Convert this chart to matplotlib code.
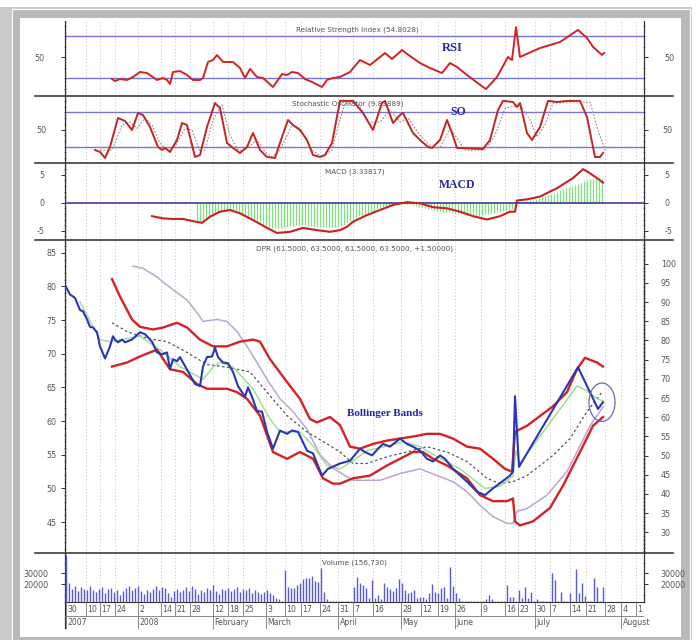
import matplotlib
matplotlib.use("Agg")
import matplotlib.pyplot as plt
import numpy as np
from matplotlib.lines import Line2D
from matplotlib.patches import Ellipse, Rectangle

plt.rcParams["axes.unicode_minus"] = False

W, H = 697, 640

# x axis is a session index running 0 .. 579 across the chart
week_ticks = [1, 21, 35, 50, 73, 96, 110, 125, 148, 163, 178, 201, 220, 236, 255, 273,
              288, 308, 336, 356, 373, 390, 416, 440, 453, 470, 485, 505, 521, 540, 556, 571]
week_labels = ["30", "10", "17", "24", "2", "14", "21", "28", "12", "18", "25", "3", "10", "17",
               "24", "31", "7", "16", "28", "12", "19", "26", "9", "16", "23", "30", "7", "14",
               "21", "28", "4", "1"]
month_ticks = [1, 73, 148, 201, 273, 336, 390, 470, 556]
month_labels = ["2007", "2008", "February", "March", "April", "May", "June", "July", "August"]

# --- main panel (price + bollinger bands) ---
price_x = [0, 5, 10, 15, 18, 22, 25, 28, 32, 35, 40, 45, 48, 50, 53, 57, 60, 67, 75, 80, 87, 92,
           97, 102, 105, 108, 112, 115, 118, 123, 130, 135, 138, 142, 147, 150, 153, 158, 163,
           168, 173, 180, 183, 187, 192, 197, 202, 208, 215, 222, 227, 233, 242, 248, 257, 263,
           275, 285, 295, 300, 307, 315, 318, 325, 335, 342, 348, 355, 362, 368, 375, 380, 388,
           402, 412, 420, 428, 437, 445, 448, 450, 454, 513, 533, 538]
price_y = [80.2, 78.8, 78.3, 76.5, 76.3, 75.1, 74.0, 73.9, 73.2, 71.1, 69.3, 71.1, 72.6, 72.1,
           71.7, 72.1, 71.7, 72.1, 73.2, 72.9, 71.8, 70.2, 69.9, 70.2, 67.7, 69.2, 68.9, 69.5,
           68.7, 67.4, 65.5, 65.2, 68.1, 69.5, 69.6, 70.9, 69.5, 68.7, 68.6, 67.3, 65.2, 63.6,
           65.0, 63.6, 61.5, 61.4, 58.4, 55.9, 58.6, 58.1, 58.6, 58.4, 55.6, 55.2, 51.9, 52.9,
           53.7, 54.1, 55.9, 55.4, 54.9, 56.2, 56.6, 56.2, 57.4, 56.6, 56.2, 55.6, 54.4, 54.0,
           54.9, 54.4, 52.9, 51.0, 49.5, 49.0, 50.0, 51.0, 51.9, 52.5, 63.7, 53.2, 68.0, 61.8, 62.8]

sma_x = [15, 35, 45, 75, 95, 115, 138, 148, 155, 168, 188, 205, 215, 235, 248, 262, 275, 288,
         302, 322, 338, 355, 372, 395, 420, 435, 448, 451, 455, 512, 522, 532, 538]
sma_y = [77.7, 72.1, 71.8, 72.6, 70.6, 68.1, 66.2, 68.0, 68.7, 68.0, 64.8, 60.3, 58.4, 58.4,
         56.3, 53.4, 52.9, 54.1, 55.6, 56.3, 56.9, 56.2, 54.7, 52.9, 50.0, 50.3, 51.8, 55.6,
         53.7, 65.2, 64.5, 63.3, 63.0]

mid_x = [47, 62, 82, 102, 122, 142, 162, 185, 202, 222, 242, 262, 275, 288, 302, 322, 342, 362,
         382, 402, 422, 435, 448, 462, 488, 505, 522, 537]
mid_y = [74.6, 73.3, 72.3, 71.8, 70.2, 68.4, 68.0, 67.3, 64.3, 60.8, 58.4, 56.6, 55.4, 53.7,
         53.7, 54.7, 55.4, 56.2, 55.4, 54.0, 51.5, 50.7, 51.0, 51.9, 54.9, 57.4, 61.4, 64.3]

upper_x = [47, 55, 67, 75, 88, 98, 112, 122, 135, 148, 162, 175, 188, 195, 205, 222, 235, 245,
           252, 265, 275, 285, 295, 308, 322, 335, 348, 362, 375, 388, 402, 415, 428, 440, 447,
           450, 462, 488, 502, 512, 520, 532, 538]
upper_y = [81.1, 78.5, 75.1, 74.0, 73.6, 73.9, 74.6, 73.9, 72.1, 71.1, 71.1, 71.8, 72.1, 71.8,
           69.2, 65.8, 63.3, 60.3, 59.8, 60.6, 59.4, 56.2, 55.9, 56.6, 57.1, 57.4, 57.7, 58.1,
           58.1, 57.4, 56.2, 55.9, 54.4, 52.9, 52.5, 58.4, 59.3, 62.2, 64.3, 67.7, 69.4, 68.7, 68.1]

lower_x = [47, 62, 75, 85, 92, 105, 118, 132, 142, 162, 172, 182, 195, 208, 222, 235, 248, 258,
           268, 275, 288, 305, 322, 335, 348, 358, 368, 382, 402, 415, 428, 442, 448, 450, 455,
           468, 485, 498, 515, 528, 538]
lower_y = [68.1, 68.7, 69.6, 70.2, 70.6, 67.7, 67.3, 65.5, 64.8, 64.8, 64.3, 63.3, 60.8, 55.4,
           54.4, 55.4, 54.4, 51.5, 50.7, 50.7, 51.5, 51.9, 53.4, 54.4, 55.4, 55.4, 54.4, 53.4,
           51.5, 49.0, 48.1, 48.1, 48.5, 45.1, 44.5, 45.1, 47.1, 50.4, 55.4, 59.3, 60.6]

dpr_x = [68, 78, 92, 108, 122, 132, 138, 152, 162, 172, 182, 192, 202, 215, 228, 242, 255, 268,
         288, 315, 335, 355, 372, 388, 402, 415, 428, 442, 448, 452, 462, 482, 502, 515, 525, 538]
dpr_y = [83.0, 82.7, 81.4, 79.5, 78.0, 76.1, 74.8, 75.1, 74.8, 73.3, 71.1, 68.7, 66.2, 63.3,
         61.4, 58.8, 55.0, 53.0, 51.2, 51.2, 52.2, 52.9, 51.9, 51.0, 49.5, 47.5, 45.8, 44.8,
         44.8, 46.6, 47.0, 49.0, 52.5, 56.3, 59.3, 62.1]

# --- RSI ---
rsi_x = [47, 50, 55, 62, 68, 75, 82, 92, 98, 102, 105, 108, 115, 122, 128, 135, 138, 143, 148,
         152, 158, 168, 175, 180, 185, 192, 198, 208, 217, 222, 227, 233, 240, 247, 257, 262,
         268, 275, 285, 295, 305, 320, 327, 337, 345, 355, 365, 377, 385, 392, 402, 418, 421,
         432, 443, 447, 451, 455, 475, 495, 513, 522, 528, 537, 539]
rsi_y = [29.1, 27.2, 29.1, 28.2, 31.1, 35.9, 34.9, 28.2, 30.1, 28.2, 24.3, 35.9, 36.8, 33.0,
         28.2, 28.2, 30.1, 45.5, 47.4, 52.2, 45.5, 45.5, 39.7, 30.1, 38.8, 31.1, 30.1, 21.4,
         33.9, 33.0, 35.9, 34.9, 29.1, 26.3, 21.4, 28.2, 30.1, 31.1, 35.9, 47.4, 42.6, 54.1,
         48.4, 57.0, 51.2, 44.5, 39.7, 34.9, 44.5, 40.7, 33.0, 21.4, 19.5, 31.1, 50.3, 47.4,
         79.1, 50.3, 58.9, 64.7, 76.3, 68.6, 60.0, 52.2, 54.1]

# --- Stochastic oscillator ---
so_x = [30, 35, 40, 45, 53, 60, 67, 73, 78, 85, 93, 97, 100, 105, 112, 117, 122, 130, 135, 142,
        150, 155, 162, 168, 175, 182, 188, 195, 202, 210, 217, 223, 228, 235, 242, 248, 255,
        260, 267, 275, 288, 298, 308, 317, 320, 328, 335, 338, 348, 355, 363, 367, 375, 382,
        387, 392, 418, 425, 433, 438, 448, 452, 455, 462, 467, 475, 483, 492, 502, 515, 522,
        530, 535, 538]
so_k = [14.2, 10.7, 0.3, 19.5, 70.1, 64.8, 49.1, 78.8, 75.3, 54.4, 19.5, 14.2, 17.7, 10.7,
        31.7, 61.3, 57.9, 2.0, 5.5, 54.4, 96.2, 87.5, 26.4, 17.7, 9.0, 19.5, 43.9, 14.2, 2.0,
        0.3, 36.9, 66.6, 57.9, 49.1, 31.7, 5.5, 2.0, 5.5, 26.4, 100, 100, 78.8, 49.1, 96.2, 100,
        61.3, 75.3, 78.8, 43.9, 31.7, 19.5, 17.7, 31.7, 66.6, 43.9, 17.7, 16.0, 31.7, 84.0, 100,
        98, 89.3, 96.2, 43.9, 31.7, 54.4, 100, 98, 100, 100, 71.8, 2.0, 2.0, 9.0]
sod_x = [35, 47, 57, 65, 72, 80, 87, 95, 103, 110, 120, 127, 135, 140, 148, 157, 165, 173, 180,
         192, 200, 207, 215, 227, 235, 247, 257, 267, 275, 280, 293, 303, 315, 325, 335, 343,
         355, 367, 375, 385, 393, 400, 420, 430, 440, 455, 465, 472, 480, 488, 510, 525, 533, 540]
so_d = [14, 14, 58, 63, 52, 70, 58, 26, 14, 20, 52, 49, 11, 14, 67, 93, 40, 14, 14, 32, 11, 2,
        14, 58, 52, 14, 2, 14, 67, 96, 96, 63, 63, 84, 63, 70, 40, 18, 18, 52, 32, 14, 14, 40,
        87, 93, 67, 37, 58, 96, 98, 98, 49, 14]

# --- MACD ---
macd_x = [87, 98, 108, 118, 128, 137, 145, 155, 165, 175, 188, 202, 212, 225, 238, 252, 265,
          275, 282, 288, 302, 315, 328, 342, 355, 368, 382, 395, 408, 422, 435, 445, 450, 452,
          462, 475, 492, 508, 518, 523, 532, 538]
macd_y = [-2.4, -2.8, -2.9, -2.9, -3.3, -3.6, -2.5, -1.6, -1.3, -1.9, -3.1, -4.5, -5.4, -5.2,
          -4.5, -4.9, -5.2, -4.9, -4.3, -3.4, -2.2, -1.3, -0.4, 0.1, -0.1, -0.8, -1.0, -1.6,
          -2.4, -3.0, -2.4, -1.6, -1.6, 0.4, 0.6, 1.1, 2.6, 4.4, 6.0, 5.5, 4.4, 3.6]
hist_x = np.arange(132, 538, 3)
hist_y = [-3.3, -3.5, -3.5, -3.0, -2.6, -2.2, -1.9, -1.7, -1.5, -1.4, -1.3, -1.3, -1.4, -1.6,
          -1.8, -2.1, -2.4, -2.7, -3.0, -3.2, -3.5, -3.8, -4.0, -4.2, -4.4, -4.5, -4.6, -4.6,
          -4.5, -4.4, -4.3, -4.2, -4.1, -4.0, -3.9, -3.9, -4.0, -4.1, -4.2, -4.3, -4.3, -4.4,
          -4.4, -4.4, -4.4, -4.3, -4.3, -4.2, -4.1, -3.9, -3.6, -3.3, -3.0, -2.7, -2.4, -2.2,
          -2.0, -1.8, -1.6, -1.4, -1.2, -1.0, -0.9, -0.7, -0.6, -0.5, -0.4, -0.3, -0.2, -0.2,
          -0.2, -0.3, -0.4, -0.5, -0.7, -0.8, -1.0, -1.1, -1.2, -1.3, -1.4, -1.5, -1.6, -1.6,
          -1.7, -1.8, -1.9, -2.0, -2.0, -2.1, -2.2, -2.2, -2.3, -2.3, -2.3, -2.2, -2.1, -2.0,
          -1.9, -1.8, -1.7, -1.6, -1.5, -1.4, -1.3, -1.2, -1.0, 0.2, 0.2, 0.3, 0.3, 0.4, 0.5,
          0.6, 0.8, 1.0, 1.2, 1.4, 1.6, 1.8, 2.0, 2.2, 2.4, 2.6, 2.8, 3.0, 3.2, 3.4, 3.6, 3.8,
          4.0, 4.2, 4.3, 4.4, 4.4, 4.3]

# --- Volume (thousands) ---
vol_x = np.arange(1, 539, 3)
vol_k = [47.1, 20.9, 15.3, 18.1, 13.5, 17.2, 15.3, 14.4, 18.1, 14.4,
         12.5, 15.3, 17.2, 11.6, 15.3, 16.3, 12.5, 14.4, 9.7, 13.5,
         16.3, 18.1, 14.4, 16.3, 18.1, 13.5, 10.7, 14.4, 12.5, 15.3,
         18.1, 14.4, 17.2, 16.3, 11.6, 7.8, 13.5, 15.3, 12.5, 14.4,
         17.2, 13.5, 18.1, 15.3, 10.7, 14.4, 12.5, 16.3, 14.4, 19.1,
         13.5, 10.7, 15.3, 14.4, 16.3, 13.5, 15.3, 17.2, 12.5, 15.3,
         14.4, 16.3, 11.6, 14.4, 12.5, 10.7,
         12.5, 14.4, 11.6, 9.7, 6.9, 6.0, 4.0, 33.1, 17.5, 16.0,
         16.0, 19.1, 20.9, 24.4, 25.9, 25.6, 27.5, 22.8, 22.2, 34.7,
         12.8, 6.0, 4.0, 4.0, 4.0, 4.0, 4.0, 4.0, 4.0, 4.0,
         17.5, 26.3, 20.7, 19.1, 16.0, 6.9, 23.7, 6.9, 9.7, 6.0,
         21.2, 17.5, 15.0, 13.5, 16.0, 24.4, 20.7, 14.4, 11.3, 12.8,
         14.4, 6.9, 8.1, 8.1, 6.0, 11.3, 19.7, 12.8, 11.3, 16.0,
         17.5, 6.9, 36.2, 18.1, 11.3, 6.6, 4.5, 4.5, 4.5, 4.5,
         4.5, 4.5, 4.5, 4.5, 6.0, 9.7, 5.7, 4.5, 4.5, 4.5,
         4.5, 19.1, 8.1, 7.6, 4.5, 14.4, 6.9, 17.5, 6.9, 12.8,
         4.5, 5.7, 4.5, 4.5, 4.5, 4.5, 30.0, 23.7, 4.5, 12.8,
         4.5, 4.5, 11.3, 4.5, 34.0, 11.3, 20.7, 8.8, 4.5, 4.5,
         25.3, 17.5, 4.5, 17.5]

RED = "#d42222"
BLUE = "#2a36b4"
NAVY = "#2626a6"
GRID = "#c4c4c4"
SMALL = ["Liberation Sans Narrow", "DejaVu Sans"]
SERIF = ["Liberation Serif", "DejaVu Serif"]


def fx(x):
    return x / W


def fy(y):
    return 1 - y / H


def panel(fig, top, bottom, right_pad=9):
    ax = fig.add_axes([fx(65), fy(bottom), (644 - 65) / W, (bottom - top) / H])
    ax.set_xlim(0, 579)
    ax.set_facecolor("none")
    for s in ("top", "bottom"):
        ax.spines[s].set_visible(False)
    for s in ("left", "right"):
        ax.spines[s].set_color("#333333")
        ax.spines[s].set_linewidth(0.9)
    ax.set_xticks([])
    for t in week_ticks:
        ax.axvline(t, color=GRID, lw=0.6, ls=(0, (1.5, 2.5)), zorder=0)
    ax.tick_params(axis="y", which="major", direction="out", length=3, width=0.7,
                   colors="#333333", labelsize=5.8, labelcolor="#555555",
                   right=True, labelright=True, pad=2)
    ax.tick_params(axis="y", which="minor", direction="inout", length=2, width=0.5,
                   colors="#555555", right=True)
    ax.yaxis.set_tick_params(which="major", pad=3)
    for tk in ax.yaxis.get_major_ticks():
        tk.set_pad(3)
    ax.tick_params(axis="y", which="major", pad=3)
    return ax


def right_labels_out(ax, pad):
    # push the right-hand tick labels away from the axis line
    for tk in ax.yaxis.get_major_ticks():
        tk.label2.set_horizontalalignment("left")
    ax.yaxis.set_tick_params(which="major", pad=pad)
    ax.tick_params(axis="y", which="major", left=True, labelleft=True)


fig = plt.figure(figsize=(W / 100, H / 100), dpi=100)
fig.patch.set_facecolor("white")

# outer frame
fig.add_artist(Rectangle((0, 0), fx(692), 1 - 7 / H, transform=fig.transFigure,
                         facecolor="#cacaca", edgecolor="none", zorder=-5))
fig.add_artist(Rectangle((fx(12), 0), fx(678), 1 - 9 / H, transform=fig.transFigure,
                         facecolor="#b9b9b9", edgecolor="white", lw=0.8, zorder=-4))
fig.add_artist(Rectangle((fx(20), fy(637)), fx(661), (637 - 18) / H, transform=fig.transFigure,
                         facecolor="white", edgecolor="none", zorder=-3))

# ---------------- RSI ----------------
ax_rsi = panel(fig, 21, 96)
ax_rsi.set_ylim(12.8, 84.9)
ax_rsi.axhline(70, color="#7676d6", lw=1.0, zorder=1)
ax_rsi.axhline(30, color="#7676d6", lw=1.0, zorder=1)
ax_rsi.plot(rsi_x, rsi_y, color=RED, lw=1.4, zorder=3)
ax_rsi.set_yticks([50])
ax_rsi.set_yticks([20, 30, 40, 60, 70, 80], minor=True)
ax_rsi.text(387, 58.9, "RSI", family=SERIF, weight="bold", color=NAVY, fontsize=9,
            ha="center", va="center")

# ---------------- Stochastic ----------------
ax_so = panel(fig, 96, 163)
ax_so.set_ylim(-8.5, 108.5)
ax_so.axhline(80, color="#7676d6", lw=1.0, zorder=1)
ax_so.axhline(20, color="#7676d6", lw=1.0, zorder=1)
ax_so.plot(sod_x, so_d, color="#b08080", lw=0.8, ls=(0, (1.5, 1.5)), zorder=2)
ax_so.plot(so_x, so_k, color="#c02424", lw=1.4, zorder=3)
ax_so.set_yticks([50])
ax_so.set_yticks([0, 10, 20, 30, 40, 60, 70, 80, 90, 100], minor=True)
ax_so.text(393, 80.5, "SO", family=SERIF, weight="bold", color=NAVY, fontsize=8.5,
           ha="center", va="center")

# ---------------- MACD ----------------
ax_macd = panel(fig, 163, 240)
ax_macd.set_ylim(-6.66, 7.1)
ax_macd.vlines(hist_x, 0, hist_y, color="#7de27d", lw=0.9, zorder=2)
ax_macd.axhline(0, color="#2a2a9a", lw=1.1, zorder=3)
ax_macd.plot(macd_x, macd_y, color="#cc2020", lw=1.5, zorder=4)
ax_macd.set_yticks([-5, 0, 5])
ax_macd.set_yticks(np.arange(-6, 7, 1), minor=True)
ax_macd.text(392, 3.2, "MACD", family=SERIF, weight="bold", color=NAVY, fontsize=8.5,
             ha="center", va="center")

# ---------------- Main price panel ----------------
ax = panel(fig, 240, 553)
ax.set_ylim(40.4, 86.9)
ax.tick_params(axis="y", which="both", right=False, labelright=False)
ax.plot(dpr_x, dpr_y, color="#bca6cc", lw=1.1, zorder=2)
ax.plot(mid_x, mid_y, color="#555555", lw=0.9, ls=(0, (2, 2)), zorder=2)
ax.plot(sma_x, sma_y, color="#98dc90", lw=1.0, zorder=3)
ax.plot(upper_x, upper_y, color=RED, lw=1.7, zorder=3)
ax.plot(lower_x, lower_y, color=RED, lw=1.7, zorder=3)
ax.plot(price_x, price_y, color=BLUE, lw=1.5, zorder=4)
ax.add_patch(Ellipse((537, 62.8), 26, 5.7, fill=False, edgecolor="#6a6ab4", lw=0.9, zorder=5))
ax.set_yticks(np.arange(45, 90, 5))
ax.set_yticks(np.arange(41, 87, 1), minor=True)
ax.text(320, 61.1, "Bollinger Bands", family=SERIF, weight="bold", color=NAVY, fontsize=8,
        ha="center", va="center")

ax_r = ax.twinx()
ax_r.set_ylim(24.6, 106.2)
for s in ("top", "bottom", "left"):
    ax_r.spines[s].set_visible(False)
ax_r.spines["right"].set_color("#333333")
ax_r.spines["right"].set_linewidth(0.9)
ax_r.set_yticks(np.arange(30, 105, 5))
ax_r.set_yticks(np.arange(25, 106, 1), minor=True)
ax_r.tick_params(axis="y", which="major", direction="out", length=3, width=0.7,
                 colors="#333333", labelsize=5.8, labelcolor="#555555", pad=9)
ax_r.tick_params(axis="y", which="minor", direction="inout", length=2, width=0.5,
                 colors="#555555")

# ---------------- Volume ----------------
ax_v = panel(fig, 553, 601.7)
ax_v.set_ylim(3.46, 48.97)
ax_v.vlines(vol_x, 3.46, vol_k, color="#5a5ad6", lw=1.0, zorder=3)
ax_v.set_yticks([20, 30])
ax_v.set_yticklabels(["20000", "30000"])
ax_v.set_yticks([10, 40], minor=True)
ax_v.spines["bottom"].set_visible(True)
ax_v.spines["bottom"].set_color("#333333")

right_labels_out(ax_rsi, 12)
right_labels_out(ax_so, 10)
right_labels_out(ax_macd, 12)
right_labels_out(ax_v, 9)
for a in (ax_rsi, ax_so, ax_macd, ax_v):
    for tk in a.yaxis.get_major_ticks():
        tk.label1.set_horizontalalignment("right")

# ---------------- Date axis ----------------
ax_d = fig.add_axes([fx(65), fy(628), (644 - 65) / W, (628 - 601.7) / H])
ax_d.set_xlim(0, 579)
ax_d.set_ylim(0, 1)
ax_d.axis("off")
ax_d.plot([0, 0], [0, 1], color="#333333", lw=0.9, clip_on=False)
ax_d.axhline(0.46, color="#777777", lw=0.6)
ax_d.vlines(week_ticks, 0.46, 1, color="#777777", lw=0.6)
ax_d.vlines(month_ticks, -0.05, 0.46, color="#777777", lw=0.6, clip_on=False)
for t, lab in zip(week_ticks, week_labels):
    ax_d.text(t + 1.5, 0.72, lab, ha="left", va="center", fontsize=5.6, color="#555555",
              family=SMALL, clip_on=False)
for t, lab in zip(month_ticks, month_labels):
    ax_d.text(t + 1.5, 0.22, lab, ha="left", va="center", fontsize=5.6, color="#555555",
              family=SMALL, clip_on=False)

# ---------------- panel separators and captions ----------------
for y in (96, 163, 240, 553):
    fig.add_artist(Line2D([fx(35), fx(673)], [fy(y), fy(y)], transform=fig.transFigure,
                          color="#3c3c3c", lw=1.2))

captions = [
    (357, 30, "Relative Strength Index (54.8028)"),
    (348, 104, "Stochastic Oscillator (9.83889)"),
    (355, 172, "MACD (3.33817)"),
    (355, 249, "DPR (61.5000, 63.5000, 61.5000, 63.5000, +1.50000)"),
    (354, 563, "Volume (156,730)"),
]
for x, y, s in captions:
    fig.text(fx(x), fy(y), s, ha="center", va="center", fontsize=5.2, color="#555555",
             family=SMALL, zorder=1)

fig.savefig("out.png", dpi=100)
